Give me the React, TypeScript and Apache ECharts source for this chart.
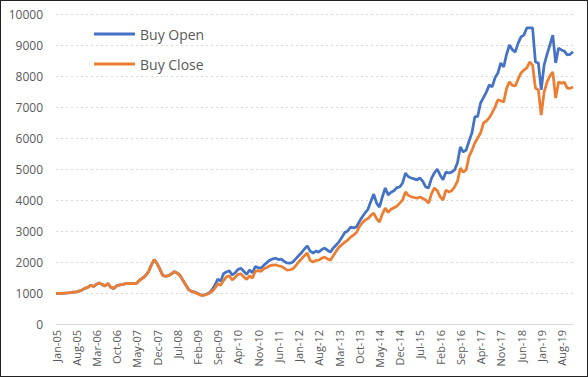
import React, { useEffect, useRef } from "react";
import * as echarts from "echarts";

const monthNames = ["Jan", "Feb", "Mar", "Apr", "May", "Jun", "Jul", "Aug", "Sep", "Oct", "Nov", "Dec"];
const years = [5, 6, 7, 8, 9, 10, 11, 12, 13, 14, 15, 16, 17, 18, 19];
const categories: string[] = [];
years.forEach((y) => monthNames.forEach((m) => categories.push(`${m}-${String(y).padStart(2, "0")}`)));

const yTicks = [0, 1000, 2000, 3000, 4000, 5000, 6000, 7000, 8000, 9000, 10000];

const buyOpen = [
  // 2005
  980, 985, 990, 995, 1000, 1010, 1030, 1040, 1060, 1100, 1150, 1180,
  // 2006
  1250, 1210, 1280, 1320, 1270, 1230, 1300, 1180, 1150, 1230, 1260, 1270,
  // 2007
  1300, 1300, 1310, 1300, 1320, 1420, 1480, 1560, 1680, 1900, 2080, 1950,
  // 2008
  1760, 1560, 1540, 1560, 1620, 1690, 1640, 1560, 1400, 1250, 1100, 1050,
  // 2009
  1030, 990, 940, 930, 960, 1000, 1100, 1250, 1450, 1380, 1620, 1680,
  // 2010
  1720, 1580, 1650, 1760, 1800, 1700, 1600, 1740, 1650, 1850, 1820, 1800,
  // 2011
  1900, 1980, 2060, 2100, 2120, 2080, 2090, 2020, 1970, 1960, 2000, 2100,
  // 2012
  2200, 2300, 2420, 2520, 2350, 2290, 2350, 2320, 2400, 2450, 2380, 2320,
  // 2013
  2450, 2550, 2650, 2800, 2950, 3000, 3130, 3100, 3130, 3300, 3450, 3580,
  // 2014
  3700, 3950, 4190, 3900, 3770, 4100, 4390, 4160, 4250, 4300, 4400, 4420,
  // 2015
  4550, 4870, 4750, 4710, 4680, 4650, 4710, 4600, 4420, 4390, 4700, 4870,
  // 2016
  5000, 4800, 4650, 4900, 4870, 4900, 4970, 5200, 5710, 5550, 5610, 5900,
  // 2017
  6160, 6680, 6700, 7130, 7300, 7480, 7710, 7650, 7940, 8100, 8420, 8290,
  // 2018
  8700, 9000, 8850, 8770, 9060, 9260, 9320, 9550, 9550, 9550, 8450, 8420,
  // 2019
  7550, 8350, 8700, 9000, 9320, 8420, 8900, 8840, 8800, 8680, 8700, 8780,
];

const buyClose = [
  // 2005
  980, 985, 990, 995, 1000, 1010, 1030, 1040, 1060, 1100, 1150, 1180,
  // 2006
  1250, 1210, 1280, 1320, 1270, 1230, 1300, 1180, 1150, 1230, 1260, 1270,
  // 2007
  1300, 1300, 1310, 1300, 1320, 1420, 1480, 1560, 1680, 1900, 2080, 1950,
  // 2008
  1760, 1560, 1540, 1560, 1620, 1690, 1640, 1560, 1400, 1250, 1100, 1050,
  // 2009
  1020, 980, 930, 920, 950, 990, 1050, 1150, 1300, 1250, 1400, 1520,
  // 2010
  1560, 1420, 1500, 1600, 1620, 1520, 1440, 1550, 1480, 1700, 1720, 1700,
  // 2011
  1780, 1820, 1880, 1900, 1910, 1880, 1860, 1800, 1740, 1750, 1780, 1880,
  // 2012
  2000, 2100, 2200, 2290, 2050, 2000, 2050, 2060, 2120, 2160, 2100, 2060,
  // 2013
  2200, 2350, 2480, 2560, 2640, 2710, 2800, 2870, 2950, 3130, 3260, 3350,
  // 2014
  3400, 3500, 3580, 3400, 3290, 3550, 3740, 3600, 3700, 3750, 3800, 3900,
  // 2015
  4000, 4260, 4150, 4100, 4080, 4060, 4100, 4050, 4000, 3900, 4200, 4390,
  // 2016
  4300, 4100, 4000, 4320, 4260, 4300, 4420, 4600, 5030, 4900, 4970, 5400,
  // 2017
  5600, 5840, 6000, 6160, 6480, 6550, 6650, 6810, 7000, 7230, 7200, 7160,
  // 2018
  7600, 7810, 7700, 7680, 7900, 8100, 8190, 8260, 8450, 8350, 7610, 7550,
  // 2019
  6740, 7480, 7800, 8000, 8130, 7290, 7810, 7770, 7800, 7610, 7600, 7650,
];

const seriesNames = ["Buy Open", "Buy Close"];
const colors = ["#4472C4", "#ED7D31"];
const FONT = "'Open Sans', 'Noto Sans', sans-serif";

export default function App() {
  const ref = useRef<HTMLDivElement>(null);
  useEffect(() => {
    if (!ref.current) return;
    const chart = echarts.init(ref.current, null, { renderer: "svg" });
    chart.setOption({
      animation: false,
      backgroundColor: "#ffffff",
      color: colors,
      grid: { left: 55, right: 14, top: 13, bottom: 52, containLabel: false },
      legend: {
        orient: "vertical",
        left: 88,
        top: 20,
        icon: "rect",
        itemWidth: 41,
        itemHeight: 3,
        itemGap: 14,
        data: seriesNames,
        textStyle: { fontFamily: FONT, fontSize: 14, color: "#595959", lineHeight: 16 },
      },
      xAxis: {
        type: "category",
        data: categories,
        boundaryGap: false,
        axisLine: { lineStyle: { color: "#d9d9d9", width: 1 } },
        axisTick: { show: false },
        axisLabel: {
          interval: 6,
          rotate: 90,
          margin: 6,
          fontFamily: FONT,
          fontSize: 11,
          color: "#595959",
        },
        splitLine: { show: false },
      },
      yAxis: {
        type: "value",
        min: yTicks[0],
        max: yTicks[yTicks.length - 1],
        interval: 1000,
        axisLine: { show: false },
        axisTick: { show: false },
        axisLabel: {
          fontFamily: FONT,
          fontSize: 12,
          color: "#595959",
          margin: 13,
          formatter: (v: number) => String(v),
        },
        splitLine: { lineStyle: { color: "#d9d9d9", type: [2, 3], width: 1 } },
      },
      series: [
        {
          name: seriesNames[0],
          type: "line",
          data: buyOpen,
          showSymbol: false,
          symbol: "none",
          lineStyle: { width: 2.75, color: colors[0] },
          itemStyle: { color: colors[0] },
        },
        {
          name: seriesNames[1],
          type: "line",
          data: buyClose,
          showSymbol: false,
          symbol: "none",
          lineStyle: { width: 2.75, color: colors[1] },
          itemStyle: { color: colors[1] },
        },
      ],
    });
    return () => chart.dispose();
  }, []);
  return (
    <div
      style={{
        position: "fixed",
        left: 0,
        top: 0,
        width: 588,
        height: 377,
        boxSizing: "border-box",
        border: "1px solid #222",
        background: "#fff",
      }}
    >
      <div ref={ref} style={{ width: 586, height: 375 }} />
    </div>
  );
}
